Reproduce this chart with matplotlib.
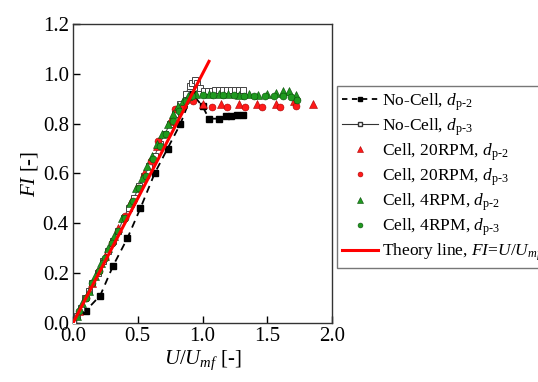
import matplotlib
matplotlib.use("Agg")
import matplotlib.pyplot as plt
from matplotlib.lines import Line2D

plt.rcParams['font.family'] = ['Liberation Serif', 'DejaVu Serif']
plt.rcParams['mathtext.fontset'] = 'custom'
plt.rcParams['mathtext.rm'] = 'Liberation Serif'
plt.rcParams['mathtext.it'] = 'Liberation Serif:italic'
plt.rcParams['mathtext.bf'] = 'Liberation Serif:bold'

# No-Cell, d_p-2 (black squares, dashed)
nc2_u = [0.0, 0.10, 0.21, 0.31, 0.42, 0.52, 0.63, 0.73, 0.83, 0.92, 1.00, 1.05, 1.13, 1.18, 1.22, 1.27, 1.31]
nc2_fi = [0.0, 0.05, 0.11, 0.23, 0.34, 0.46, 0.60, 0.70, 0.80, 0.92, 0.87, 0.82, 0.82, 0.83, 0.83, 0.835, 0.835]

# No-Cell, d_p-3 (hollow squares, solid)
nc3_u = [0.0, 0.03, 0.06, 0.09, 0.12, 0.15, 0.19, 0.23, 0.27, 0.31, 0.35, 0.39, 0.43, 0.47,
         0.51, 0.55, 0.59, 0.63, 0.67, 0.71, 0.75, 0.79, 0.83, 0.87, 0.90, 0.92, 0.94, 0.96,
         0.98, 1.01, 1.04, 1.07, 1.10, 1.13, 1.16, 1.19, 1.22, 1.25, 1.28, 1.31]
nc3_fi = [0.0, 0.03, 0.06, 0.10, 0.13, 0.16, 0.20, 0.25, 0.29, 0.33, 0.37, 0.42, 0.46, 0.50,
          0.55, 0.59, 0.63, 0.67, 0.72, 0.76, 0.80, 0.84, 0.88, 0.92, 0.95, 0.965, 0.975, 0.965,
          0.945, 0.93, 0.93, 0.93, 0.935, 0.935, 0.935, 0.935, 0.935, 0.935, 0.935, 0.935]

# Cell, 20RPM, d_p-2 (red triangles)
c20_2_u = [0.05, 0.15, 0.25, 0.35, 0.45, 0.55, 0.65, 0.75, 0.85, 1.00, 1.14, 1.28, 1.42, 1.57, 1.71, 1.85]
c20_2_fi = [0.05, 0.16, 0.27, 0.38, 0.49, 0.60, 0.71, 0.81, 0.88, 0.88, 0.88, 0.88, 0.88, 0.88, 0.89, 0.88]

# Cell, 20RPM, d_p-3 (red circles)
c20_3_u = [0.10, 0.20, 0.30, 0.40, 0.50, 0.60, 0.66, 0.785, 0.93, 1.07, 1.19, 1.33, 1.46, 1.60, 1.72]
c20_3_fi = [0.10, 0.21, 0.32, 0.43, 0.54, 0.65, 0.73, 0.86, 0.89, 0.865, 0.865, 0.865, 0.865, 0.865, 0.87]

# Cell, 4RPM, d_p-2 (green triangles)
c4_2_u = [0.03, 0.07, 0.12, 0.17, 0.22, 0.27, 0.32, 0.38, 0.44, 0.49, 0.53, 0.57, 0.61, 0.65,
          0.69, 0.73, 0.77, 0.81, 0.85, 0.89, 0.95, 1.05, 1.13, 1.20, 1.28, 1.36, 1.43, 1.50,
          1.57, 1.62, 1.67, 1.72]
c4_2_fi = [0.03, 0.08, 0.13, 0.19, 0.24, 0.30, 0.35, 0.42, 0.48, 0.54, 0.58, 0.63, 0.67, 0.72,
           0.76, 0.80, 0.84, 0.87, 0.89, 0.91, 0.92, 0.92, 0.92, 0.92, 0.915, 0.92, 0.915, 0.92,
           0.925, 0.93, 0.93, 0.915]

# Cell, 4RPM, d_p-3 (green circles)
c4_3_u = [0.05, 0.10, 0.15, 0.20, 0.25, 0.30, 0.35, 0.40, 0.46, 0.51, 0.56, 0.62, 0.67, 0.72,
          0.77, 0.82, 0.87, 0.92, 1.00, 1.08, 1.16, 1.24, 1.32, 1.40, 1.48, 1.55, 1.62, 1.68, 1.73]
c4_3_fi = [0.05, 0.10, 0.16, 0.21, 0.26, 0.32, 0.37, 0.42, 0.49, 0.54, 0.59, 0.66, 0.71, 0.76,
           0.81, 0.85, 0.89, 0.91, 0.915, 0.915, 0.915, 0.915, 0.91, 0.91, 0.91, 0.91, 0.91, 0.905, 0.895]

# Theory line FI = U/Umf
theory_u = [0.0, 1.05]
theory_fi = [0.0, 1.05]

labels = [r"No-Cell, $d_{\text{p-2}}$",
          r"No-Cell, $d_{\text{p-3}}$",
          r"Cell, 20RPM, $d_{\text{p-2}}$",
          r"Cell, 20RPM, $d_{\text{p-3}}$",
          r"Cell, 4RPM, $d_{\text{p-2}}$",
          r"Cell, 4RPM, $d_{\text{p-3}}$",
          r"Theory line, $FI$=$U/U_{mf}$"]

fig = plt.figure(figsize=(5.38, 3.82), dpi=100)
ax = fig.add_axes([0.1357, 0.1545, 0.4814, 0.7827])

red = '#ff1a1a'
green = '#1f9a1f'

ax.plot(nc2_u, nc2_fi, color='black', ls=(0, (4, 3)), lw=1.3, marker='s', ms=4,
        mfc='black', mec='black', zorder=3)
ax.plot(nc3_u, nc3_fi, color='#555555', ls='-', lw=0.8, marker='s', ms=5,
        mfc='white', mec='#444444', mew=0.7, zorder=3)
ax.plot(c20_2_u, c20_2_fi, ls='none', marker='^', ms=6, mfc=red, mec='#aa0000', mew=0.4, zorder=4)
ax.plot(c20_3_u, c20_3_fi, ls='none', marker='o', ms=5, mfc=red, mec='#aa0000', mew=0.4, zorder=4)
ax.plot(c4_2_u, c4_2_fi, ls='none', marker='^', ms=6, mfc=green, mec='#0a4a0a', mew=0.4, zorder=5)
ax.plot(c4_3_u, c4_3_fi, ls='none', marker='o', ms=5, mfc=green, mec='#0a4a0a', mew=0.4, zorder=5)
ax.plot(theory_u, theory_fi, color='red', lw=2.2, zorder=6)

ax.set_xlim(0, 2.0)
ax.set_ylim(0, 1.2)
ax.set_xticks([0.0, 0.5, 1.0, 1.5, 2.0])
ax.set_yticks([0.0, 0.2, 0.4, 0.6, 0.8, 1.0, 1.2])
ax.xaxis.set_major_formatter(matplotlib.ticker.FormatStrFormatter('%.1f'))
ax.yaxis.set_major_formatter(matplotlib.ticker.FormatStrFormatter('%.1f'))
ax.tick_params(direction='in', length=5, width=1, labelsize=15, pad=3)
for s in ax.spines.values():
    s.set_linewidth(1.0)
    s.set_color('#333333')
ax.set_xlabel(r"$U/U_{mf}$ [-]", fontsize=15, labelpad=2)
ax.set_ylabel(r"$FI$ [-]", fontsize=15, labelpad=2)

handles = [
    Line2D([], [], color='black', ls=(0, (3, 2.5)), lw=1.3, marker='s', ms=3, mfc='black', mec='black'),
    Line2D([], [], color='#333333', ls='-', lw=0.8, marker='s', ms=3.5, mfc='white', mec='#333333'),
    Line2D([], [], ls='none', marker='^', ms=4.5, mfc=red, mec='#aa0000', mew=0.4),
    Line2D([], [], ls='none', marker='o', ms=3.5, mfc=red, mec='#aa0000', mew=0.4),
    Line2D([], [], ls='none', marker='^', ms=4.5, mfc=green, mec='#0a4a0a', mew=0.4),
    Line2D([], [], ls='none', marker='o', ms=3.5, mfc=green, mec='#0a4a0a', mew=0.4),
    Line2D([], [], color='red', lw=2.2),
]
leg = fig.legend(handles, labels, loc='upper left', bbox_to_anchor=(0.626, 0.775),
                 bbox_transform=fig.transFigure, fontsize=12.5, frameon=True, fancybox=False,
                 handlelength=2.1, handletextpad=0.2, labelspacing=0.2, borderpad=0.3,
                 borderaxespad=0)
leg.get_frame().set_edgecolor('#555555')
leg.get_frame().set_linewidth(1.0)

fig.savefig('out.png', dpi=100)
